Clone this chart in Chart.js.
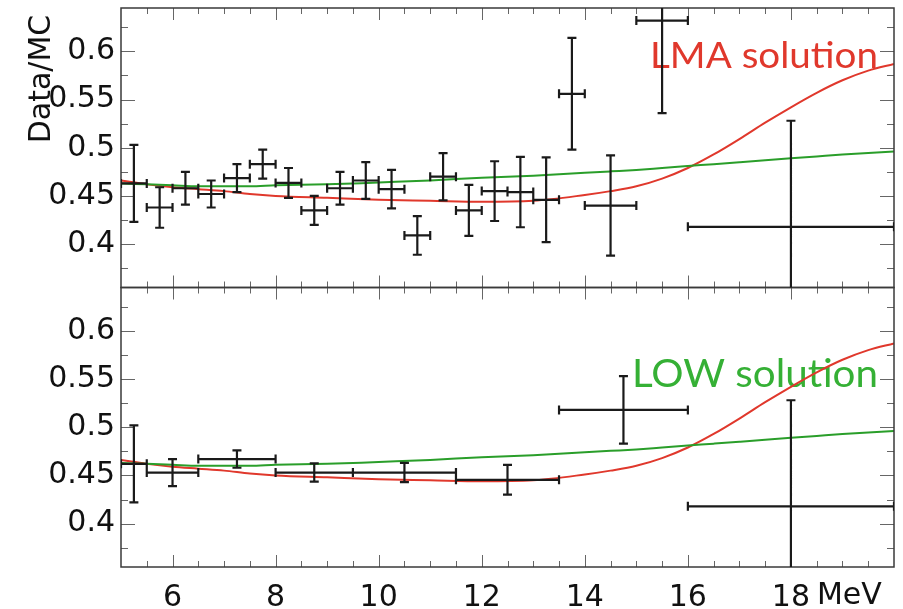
<!DOCTYPE html>
<html>
<head>
<meta charset="utf-8">
<script src="https://cdn.jsdelivr.net/npm/chart.js@4.4.1/dist/chart.umd.min.js"></script>
<style>
  html, body { margin: 0; padding: 0; background: #fff; }
  canvas { display: block; }
</style>
</head>
<body>
<canvas id="chart" width="903" height="609"></canvas>
<script>
// model curves (Data/MC vs energy in MeV), same in both panels
const curveE   = [5, 5.5, 6, 6.5, 7, 7.5, 8, 9, 10, 11, 12, 13, 14, 14.5, 15, 15.5, 16, 16.5, 17, 17.5, 18, 18.5, 19, 19.5, 20];
const lmaCurve = [0.466, 0.462, 0.459, 0.457, 0.455, 0.452, 0.450, 0.448, 0.446, 0.445, 0.444, 0.445, 0.451, 0.455, 0.460, 0.468, 0.479, 0.493, 0.509, 0.526, 0.542, 0.557, 0.570, 0.580, 0.587];
const lowCurve = [0.463, 0.462, 0.461, 0.460, 0.460, 0.460, 0.461, 0.462, 0.464, 0.466, 0.469, 0.471, 0.474, 0.4755, 0.477, 0.479, 0.481, 0.483, 0.485, 0.487, 0.489, 0.491, 0.493, 0.4945, 0.496];

// top panel: fine binning
const topLo  = [5, 5.5, 6, 6.5, 7, 7.5, 8, 8.5, 9, 9.5, 10, 10.5, 11, 11.5, 12, 12.5, 13, 13.5, 14, 15, 16];
const topHi  = [5.5, 6, 6.5, 7, 7.5, 8, 8.5, 9, 9.5, 10, 10.5, 11, 11.5, 12, 12.5, 13, 13.5, 14, 15, 16, 20];
const topVal = [0.463, 0.438, 0.458, 0.452, 0.4685, 0.483, 0.4635, 0.435, 0.458, 0.466, 0.457, 0.409, 0.470, 0.435, 0.455, 0.454, 0.446, 0.556, 0.440, 0.632, 0.418];
const topErr = [0.040, 0.021, 0.017, 0.014, 0.0145, 0.015, 0.0155, 0.015, 0.017, 0.019, 0.020, 0.020, 0.0245, 0.0265, 0.031, 0.0365, 0.044, 0.058, 0.052, 0.096, 0.110];

// bottom panel: wide bins
const botLo  = [5, 5.5, 6.5, 8, 9.5, 11.5, 13.5, 16];
const botHi  = [5.5, 6.5, 8, 9.5, 11.5, 13.5, 16, 20];
const botVal = [0.462, 0.453, 0.467, 0.453, 0.453, 0.4455, 0.518, 0.418];
const botErr = [0.040, 0.014, 0.009, 0.0095, 0.010, 0.0155, 0.035, 0.110];

const yTicks = [0.4, 0.45, 0.5, 0.55, 0.6];
const xTicks = [6, 8, 10, 12, 14, 16, 18];

const RED = '#e0382c';
const GREEN = '#2a9e2a';

function bins(lo, hi, val, err) {
  return val.map((v, i) => ({
    x: (lo[i] + hi[i]) / 2, y: v,
    xMin: lo[i], xMax: hi[i], yMin: v - err[i], yMax: v + err[i]
  }));
}
function curve(vals) {
  return curveE.map((x, i) => ({ x: x, y: vals[i] }));
}

Chart.defaults.font.family = 'DejaVu Sans';
Chart.defaults.color = '#111';

// text drawn under the data
const labels = {
  id: 'labels',
  beforeDatasetsDraw(chart) {
    const { ctx, chartArea: a, scales } = chart;
    const fit = (txt, size, color, right, base, w) => {
      ctx.save();
      ctx.font = size + 'px Lato';
      ctx.fillStyle = color;
      ctx.textBaseline = 'alphabetic';
      const sx = w / ctx.measureText(txt).width;
      ctx.translate(right - w, base);
      ctx.scale(sx, 1);
      ctx.fillText(txt, 0, 0);
      ctx.restore();
    };
    fit('LMA solution', 37, RED, a.right - 16, scales.yTop.top + 60, 228);
    fit('LOW solution', 39, '#35b035', a.right - 16, scales.yBot.top + 99, 246);

    ctx.save();
    ctx.font = '30px DejaVu Sans';
    ctx.fillStyle = '#111';
    ctx.translate(50, 79);
    ctx.rotate(-Math.PI / 2);
    ctx.textAlign = 'center';
    ctx.fillText('Data/MC', 0, 0);
    ctx.restore();

    ctx.save();
    ctx.font = '30px DejaVu Sans';
    ctx.fillStyle = '#111';
    ctx.textBaseline = 'middle';
    ctx.fillText('MeV', scales.x.getPixelForValue(18) + 26, a.bottom + 29);
    ctx.restore();
  }
};

// panel boxes with inward ticks on all four sides
const frames = {
  id: 'frames',
  afterDatasetsDraw(chart) {
    const { ctx, chartArea: a, scales } = chart;
    const xs = scales.x;
    ctx.save();
    ['yTop', 'yBot'].forEach(id => {
      const ys = scales[id];
      ctx.strokeStyle = '#666';
      ctx.lineWidth = 1;
      ctx.beginPath();
      for (let k = Math.ceil(xs.min * 2) + 1; k < xs.max * 2; k++) {
        const px = Math.round(xs.getPixelForValue(k / 2)) + 0.5;
        const len = k % 4 === 0 ? 12 : 6;
        ctx.moveTo(px, ys.top); ctx.lineTo(px, ys.top + len);
        ctx.moveTo(px, ys.bottom); ctx.lineTo(px, ys.bottom - len);
      }
      for (let k = Math.ceil(ys.min * 40); k <= Math.floor(ys.max * 40); k++) {
        const py = Math.round(ys.getPixelForValue(k / 40)) + 0.5;
        const len = k % 2 === 0 ? 14 : 7;
        ctx.moveTo(a.left, py); ctx.lineTo(a.left + len, py);
        ctx.moveTo(a.right, py); ctx.lineTo(a.right - len, py);
      }
      ctx.stroke();
      ctx.strokeStyle = '#3a3a3a';
      ctx.lineWidth = 1.5;
      ctx.strokeRect(a.left, ys.top, a.right - a.left, ys.bottom - ys.top);
    });
    ctx.restore();
  }
};

// crosses: horizontal = bin width, vertical = error, with end caps
const errorBars = {
  id: 'errorBars',
  afterDatasetsDraw(chart) {
    const { ctx, chartArea: a } = chart;
    chart.data.datasets.forEach((ds, i) => {
      if (!ds.errorBars) return;
      const meta = chart.getDatasetMeta(i);
      const xs = meta.xScale, ys = meta.yScale;
      ctx.save();
      ctx.beginPath();
      ctx.rect(a.left, ys.top, a.right - a.left, ys.bottom - ys.top);
      ctx.clip();
      ctx.strokeStyle = '#1a1a1a';
      ctx.lineWidth = 2.2;
      const cap = 4.5;
      ctx.beginPath();
      ds.data.forEach(p => {
        const x = xs.getPixelForValue(p.x), y = ys.getPixelForValue(p.y);
        const x0 = xs.getPixelForValue(p.xMin), x1 = xs.getPixelForValue(p.xMax);
        const y0 = ys.getPixelForValue(p.yMin), y1 = ys.getPixelForValue(p.yMax);
        ctx.moveTo(x0, y); ctx.lineTo(x1, y);
        ctx.moveTo(x, y0); ctx.lineTo(x, y1);
        ctx.moveTo(x0, y - cap); ctx.lineTo(x0, y + cap);
        ctx.moveTo(x1, y - cap); ctx.lineTo(x1, y + cap);
        ctx.moveTo(x - cap, y0); ctx.lineTo(x + cap, y0);
        ctx.moveTo(x - cap, y1); ctx.lineTo(x + cap, y1);
      });
      ctx.stroke();
      ctx.restore();
    });
  }
};

const yAxis = (weight) => ({
  type: 'linear', position: 'left', stack: 'panels', stackWeight: 1, weight: weight,
  min: 0.355, max: 0.645,
  grid: { display: false, drawTicks: false },
  border: { display: false },
  afterBuildTicks: s => { s.ticks = yTicks.map(v => ({ value: v })); },
  afterFit: s => { s.width = 121; s.paddingTop = 0; s.paddingBottom = 0; },
  ticks: { font: { size: 30 }, color: '#111', padding: 6, autoSkip: false, callback: v => String(v) }
});

const lineStyle = { type: 'line', borderWidth: 2, pointRadius: 0, fill: false, cubicInterpolationMode: 'monotone' };

new Chart(document.getElementById('chart'), {
  type: 'scatter',
  data: {
    datasets: [
      { ...lineStyle, label: 'LOW', data: curve(lowCurve), yAxisID: 'yTop', borderColor: GREEN },
      { ...lineStyle, label: 'LMA', data: curve(lmaCurve), yAxisID: 'yTop', borderColor: RED },
      { ...lineStyle, label: 'LOW', data: curve(lowCurve), yAxisID: 'yBot', borderColor: GREEN },
      { ...lineStyle, label: 'LMA', data: curve(lmaCurve), yAxisID: 'yBot', borderColor: RED },
      { label: 'data fine', data: bins(topLo, topHi, topVal, topErr), yAxisID: 'yTop', pointRadius: 0, errorBars: true },
      { label: 'data wide', data: bins(botLo, botHi, botVal, botErr), yAxisID: 'yBot', pointRadius: 0, errorBars: true }
    ]
  },
  options: {
    responsive: false,
    animation: false,
    devicePixelRatio: 1,
    layout: { padding: { left: 0, right: 9, top: 8, bottom: 0 } },
    plugins: { legend: { display: false }, tooltip: { enabled: false } },
    scales: {
      x: {
        type: 'linear', position: 'bottom', min: 5, max: 20,
        grid: { display: false, drawTicks: false },
        border: { display: false },
        afterBuildTicks: s => { s.ticks = xTicks.map(v => ({ value: v })); },
        afterFit: s => { s.height = 42; s.paddingLeft = 0; s.paddingRight = 0; },
        ticks: { font: { size: 30 }, color: '#111', padding: 13, maxRotation: 0, autoSkip: false }
      },
      yTop: yAxis(2),
      yBot: yAxis(1)
    }
  },
  plugins: [labels, frames, errorBars]
});
</script>
</body>
</html>
